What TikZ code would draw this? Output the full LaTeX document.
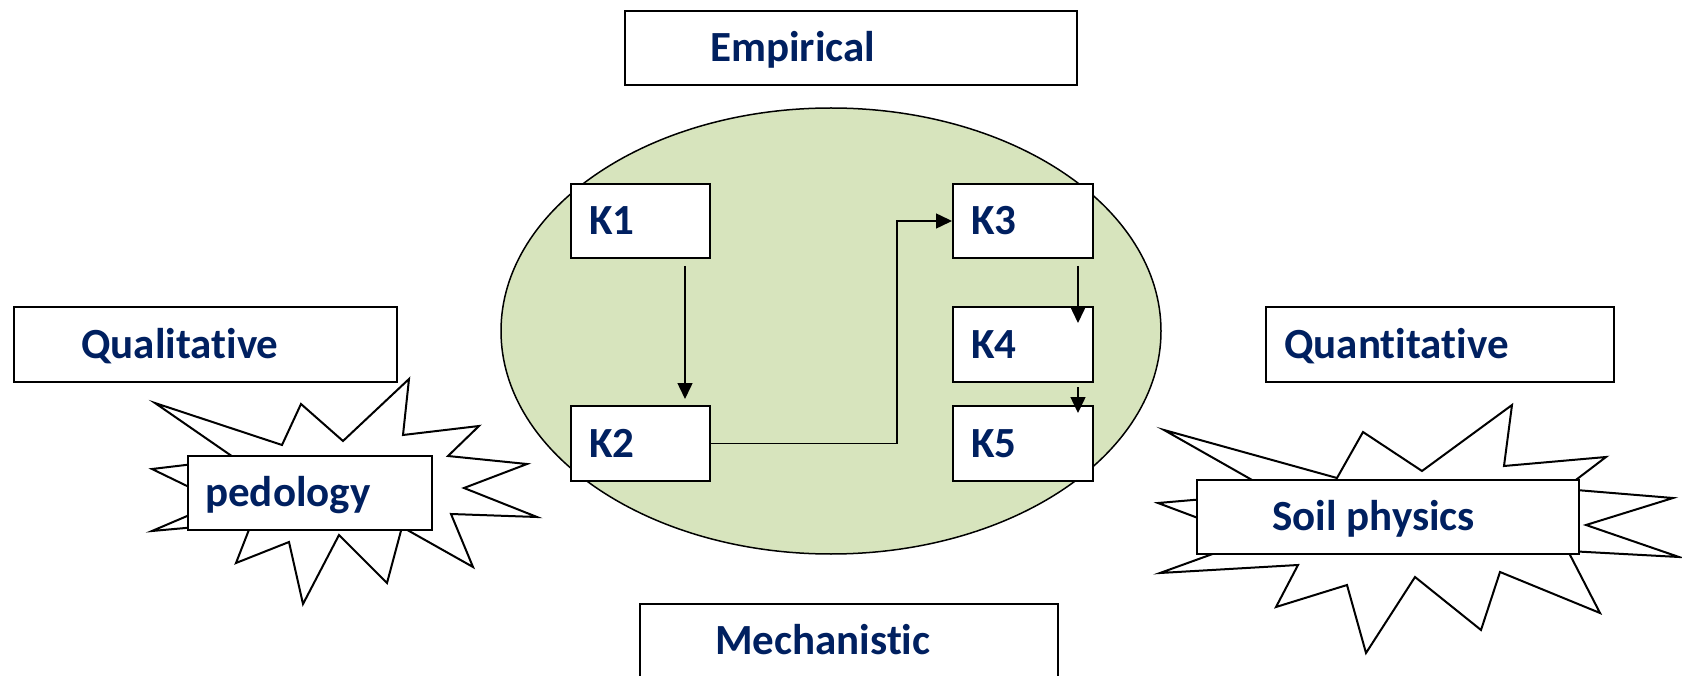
\documentclass[tikz,border=0pt]{standalone}
\usepackage{fontspec}
\setmainfont{Carlito}[Ligatures=NoCommon]
\usetikzlibrary{shapes.geometric,arrows.meta}
\definecolor{navy}{HTML}{002060}
\definecolor{leaf}{HTML}{D7E4BD}
\begin{document}
\begin{tikzpicture}[x=1pt,y=-1pt,
  box/.style={draw=black, line width=2pt, fill=white, anchor=north west, inner sep=0pt},
  lbl/.style={anchor=west, inner sep=0pt, text height=27.7pt, text depth=0pt,
              text=navy, font=\fontsize{43}{51}\selectfont\bfseries},
  arr/.style={line width=1.5pt, -{Triangle[length=16pt,width=15pt]}},
  burst/.style={draw=black, fill=white, line width=2pt, line join=miter}]
\useasboundingbox (0,0) rectangle (1682,676);
\clip (0,0) rectangle (1682,676);

% central field
\node[draw=black, line width=1.5pt, fill=leaf, ellipse, inner sep=0pt,
      minimum width=660pt, minimum height=446pt] (field) at (831,331) {};

% K boxes
\node[box, minimum width=139pt, minimum height=74pt] (k1) at (570,183) {};
\node[box, minimum width=139pt, minimum height=75pt] (k2) at (570,405) {};
\node[box, minimum width=140pt, minimum height=74pt] (k3) at (952,183) {};
\node[box, minimum width=140pt, minimum height=75pt] (k4) at (952,306) {};
\node[box, minimum width=140pt, minimum height=75pt] (k5) at (952,405) {};
\node[lbl] (k1t) at ([xshift=19pt]k1.west) {K1};
\node[lbl] (k2t) at ([xshift=19pt]k2.west) {K2};
\node[lbl] (k3t) at ([xshift=19pt]k3.west) {K3};
\node[lbl] (k4t) at ([xshift=19pt]k4.west) {K4};
\node[lbl] (k5t) at ([xshift=19pt]k5.west) {K5};

% flow between the K boxes
\draw[arr] ([shift={(-26pt,-7pt)}]k1.south east) -- ([shift={(-26pt,6pt)}]k2.north east);
\draw[arr] (k2.east) -- ++(186,0) |- (k3.west);
\draw[arr] ([shift={(-16pt,-7pt)}]k3.south east) -- ([shift={(-16pt,-17pt)}]k4.north east);
\draw[arr] ([shift={(-16pt,-4pt)}]k4.south east) -- ([shift={(-16pt,-8pt)}]k5.north east);

% axis labels
\node[box, minimum width=452pt, minimum height=74pt] (emp) at (624,10) {};
\node[lbl] (empt) at ([xshift=86pt]emp.west) {Empirical};
\node[box, minimum width=418pt, minimum height=74pt] (mech) at (639,603) {};
\node[lbl] (mecht) at ([xshift=76pt]mech.west) {Mechanistic};
\node[box, minimum width=383pt, minimum height=75pt] (qual) at (13,306) {};
\node[lbl] (qualt) at ([xshift=68pt]qual.west) {Qualitative};
\node[box, minimum width=348pt, minimum height=75pt] (quant) at (1265,306) {};
\node[lbl] (quantt) at ([xshift=19pt]quant.west) {Quantitative};

% left burst
\draw[burst] (155,403) -- (282,445) -- (301,404) -- (343,441) -- (409,379)
  -- (403,435) -- (479,426) -- (448,456) -- (527,464) -- (464,488)
  -- (537,517) -- (451,514) -- (473,567) -- (402,527) -- (387,583)
  -- (339,535) -- (303,604) -- (289,542) -- (236,563) -- (252,522)
  -- (152,531) -- (220,502) -- (152,469) -- (236,459) -- cycle;
\node[box, minimum width=244pt, minimum height=74pt] (ped) at (187,455) {};
\node[lbl] (pedt) at ([xshift=18pt]ped.west) {pedology};

% right burst
\draw[burst] (1164,430) -- (1337,478) -- (1363,432) -- (1422,471) -- (1512,405)
  -- (1504,466) -- (1606,457) -- (1564,489) -- (1673,498) -- (1586,525)
  -- (1679,557) -- (1568,551) -- (1600,613) -- (1500,572) -- (1481,630)
  -- (1415,577) -- (1366,653) -- (1347,585) -- (1276,607) -- (1298,565)
  -- (1160,573) -- (1254,539) -- (1158,503) -- (1275,493) -- cycle;
\node[box, minimum width=382pt, minimum height=74pt] (soil) at (1196,479) {};
\node[lbl] (soilt) at ([xshift=76pt]soil.west) {Soil physics};
\end{tikzpicture}
\end{document}
